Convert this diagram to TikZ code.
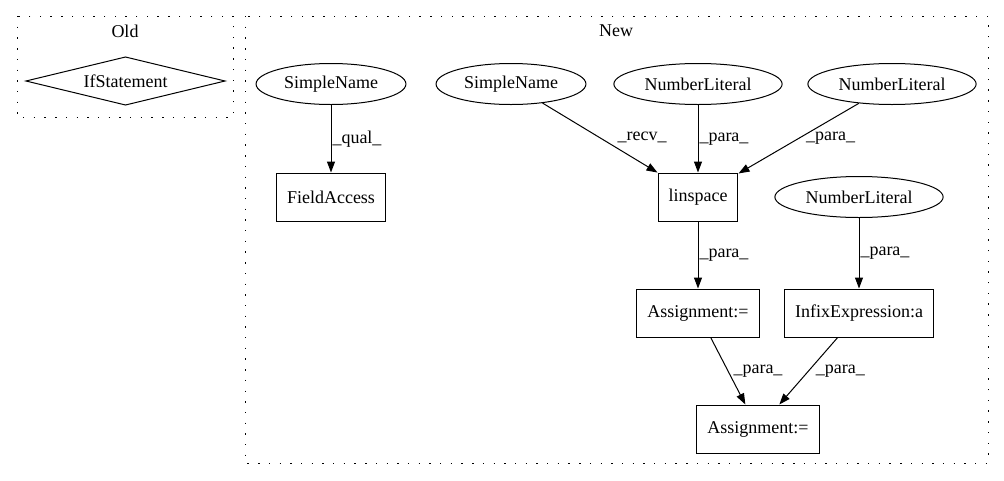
\documentclass[tikz,border=0pt]{standalone}
\usepackage{fontspec}
\setmainfont{Liberation Serif}
\usetikzlibrary{arrows.meta,shapes.geometric}
\tikzset{
    vertex/.style={ellipse,draw,line width=1pt,inner xsep=6pt,inner ysep=0pt,minimum height=41pt},
    stmt/.style={rectangle,draw,line width=1pt,inner xsep=10.5pt,minimum height=48pt},
    cluster/.style={draw,line width=1pt,dash pattern=on 1.4pt off 9.3pt},
    edge/.style={->,>={Triangle[length=11pt,width=8pt]},line width=1pt},
    lbl/.style={right,inner sep=1pt}
}

\begin{document}
\begin{tikzpicture}[x=1pt,y=-1pt,font=\fontsize{18}{21}\selectfont]
\useasboundingbox (0,0) rectangle (1004,480);

% Old
\draw[cluster] (17,16) rectangle (233,117);
\node (old) at (125,31) {Old};
\node (if) at (125.5,81) {IfStatement};
\draw[line width=1pt] (if.center) +(-99.5,0) -- +(0,-24) -- +(99.5,0) -- +(0,24) -- cycle;

% New
\draw[cluster] (245,16) rectangle (988,463);
\node (new) at (616,31) {New};

\node[vertex] (sn1) at (331,84) {SimpleName};
\node[vertex] (sn2) at (511,84) {SimpleName};
\node[vertex] (nl1) at (698,84) {NumberLiteral};
\node[vertex] (nl2) at (892,84) {NumberLiteral};

\node[stmt] (fa) at (331,197) {FieldAccess};
\node[stmt] (lin) at (698,197) {linspace};
\node[vertex] (nl3) at (859,197) {NumberLiteral};

\node[stmt] (as1) at (698,313) {Assignment:=};
\node[stmt] (inf) at (859,313) {InfixExpression:a};

\node[stmt] (as2) at (758,429) {Assignment:=};

\draw[edge] (sn1) -- (fa) node[midway, lbl] {\_qual\_};
\draw[edge] (sn2) -- (lin) node[midway, lbl, xshift=16pt] {\_recv\_};
\draw[edge] (nl1) -- (lin) node[midway, lbl] {\_para\_};
\draw[edge] (nl2) -- (lin) node[midway, lbl, xshift=6pt] {\_para\_};

\draw[edge] (lin) -- (as1) node[midway, lbl] {\_para\_};
\draw[edge] (nl3) -- (inf) node[midway, lbl] {\_para\_};

\draw[edge] (as1) -- (as2) node[midway, lbl, xshift=4pt] {\_para\_};
\draw[edge] (inf) -- (as2) node[midway, lbl, xshift=6pt] {\_para\_};

\end{tikzpicture}
\end{document}
